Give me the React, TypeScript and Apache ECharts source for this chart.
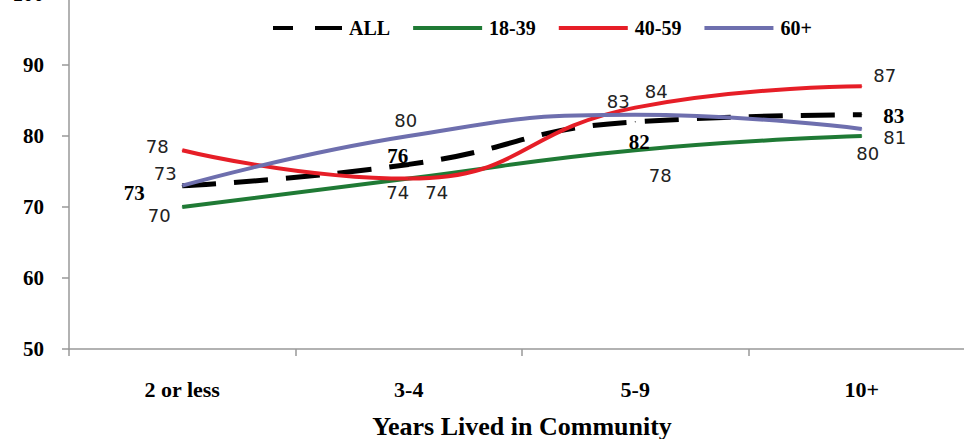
import React, { useEffect, useRef } from "react";
import * as echarts from "echarts";

// Categories and values
const categories = ["2 or less", "3-4", "5-9", "10+"];
const allValues = [73, 76, 82, 83];
const age18to39 = [70, 74, 78, 80];
const age40to59 = [78, 74, 84, 87];
const age60plus = [73, 80, 83, 81];
const yTicks = { min: 50, max: 100, interval: 10 };

// Label placement (pixel offsets from each point)
const allOffsets = [[-48, 7], [-11, -8], [4, 20], [32, 1]];
const greenOffsets = [[-23, 8], [-11, 14], [25, 25], [6, 17]];
const redOffsets = [[-25, -4], [28, 14], [21, -16], [23, -11]];
const purpleOffsets = [[-17, -12], [-3, -16], [-17, -13], [33, 9]];

const SERIF = "'Liberation Serif', 'Times New Roman', serif";
const SANS = "'DejaVu Sans', Verdana, sans-serif";

const plainLabel = {
  show: true,
  position: "inside",
  fontFamily: SANS,
  fontSize: 18,
  color: "#222",
};

const boldLabel = {
  show: true,
  position: "inside",
  fontFamily: SERIF,
  fontSize: 21,
  fontWeight: "bold",
  color: "#000",
};

function withOffsets(values: number[], offsets: number[][]) {
  return values.map((v, i) => ({ value: v, label: { offset: offsets[i] } }));
}

function lineSeries(
  name: string,
  values: number[],
  offsets: number[][],
  color: string,
  label: any,
  dashed = false
) {
  return {
    name,
    type: "line",
    smooth: true,
    symbol: "circle",
    symbolSize: 1,
    showSymbol: true,
    itemStyle: { color },
    lineStyle: dashed
      ? { color, width: 5, type: [34, 18] }
      : { color, width: 4 },
    label,
    data: withOffsets(values, offsets),
  };
}

export default function App() {
  const ref = useRef<HTMLDivElement>(null);

  useEffect(() => {
    if (!ref.current) return;
    const chart = echarts.init(ref.current, null, { renderer: "svg" });
    chart.setOption({
      animation: false,
      backgroundColor: "#fff",
      legend: {
        left: 268,
        top: 19,
        itemWidth: 69,
        itemHeight: 4,
        itemGap: 23,
        textStyle: {
          fontFamily: SERIF,
          fontSize: 20,
          fontWeight: "bold",
          color: "#000",
          padding: [0, 0, 0, 2],
        },
        data: [
          { name: "ALL", icon: "path://M0,0h20v4h-20z M42,0h27v4h-27z" },
          { name: "18-39", icon: "rect" },
          { name: "40-59", icon: "rect" },
          { name: "60+", icon: "rect" },
        ],
      },
      grid: {
        left: 69,
        right: 0,
        top: 0,
        bottom: 90,
        containLabel: false,
        outerBoundsMode: "none",
      },
      xAxis: {
        type: "category",
        data: categories,
        boundaryGap: true,
        name: "Years Lived in Community",
        nameLocation: "middle",
        nameGap: 64,
        nameTextStyle: {
          fontFamily: SERIF,
          fontSize: 26,
          fontWeight: "bold",
          color: "#000",
        },
        axisLine: { lineStyle: { color: "#999", width: 1.5 } },
        axisTick: { show: true, length: 7, lineStyle: { color: "#999", width: 1.5 } },
        axisLabel: {
          margin: 29,
          fontFamily: SERIF,
          fontSize: 22,
          fontWeight: "bold",
          color: "#000",
        },
      },
      yAxis: {
        type: "value",
        min: yTicks.min,
        max: yTicks.max,
        interval: yTicks.interval,
        axisLine: { show: true, lineStyle: { color: "#999", width: 1.5 } },
        axisTick: { show: true, length: 7, lineStyle: { color: "#999", width: 1.5 } },
        splitLine: { show: false },
        axisLabel: {
          margin: 25,
          fontFamily: SERIF,
          fontSize: 21,
          fontWeight: "bold",
          color: "#000",
          padding: [7, 0, 0, 0],
        },
      },
      series: [
        lineSeries("ALL", allValues, allOffsets, "#000000", boldLabel, true),
        lineSeries("18-39", age18to39, greenOffsets, "#1f7a35", plainLabel),
        lineSeries("40-59", age40to59, redOffsets, "#e61e27", plainLabel),
        lineSeries("60+", age60plus, purpleOffsets, "#6e6fae", plainLabel),
      ],
    });
    return () => chart.dispose();
  }, []);

  return (
    <div
      ref={ref}
      style={{ position: "fixed", left: 0, top: -6, width: 975, height: 445 }}
    />
  );
}
